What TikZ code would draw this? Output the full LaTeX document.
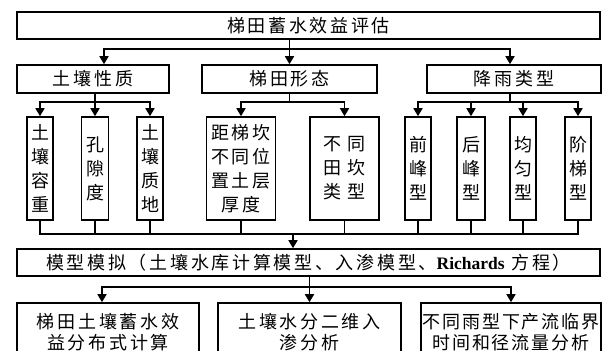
\documentclass[tikz,border=0pt]{standalone}
\usepackage{fontspec}
\setmainfont{Noto Sans CJK SC}
\newfontfamily\spaced{Noto Sans CJK SC}[LetterSpace=15]
\newfontfamily\spacedb{Noto Sans CJK SC}[LetterSpace=11]
\newfontfamily\richfont{Liberation Serif}
\usetikzlibrary{arrows.meta,calc}
\tikzset{
  box/.style={draw, line width=1.6pt, inner sep=0pt, align=center},
  hbox/.style={box, font=\spaced\fontsize{18}{21}\selectfont},
  vbox/.style={box, font=\fontsize{18}{24}\selectfont, minimum height=103pt},
  mbox/.style={box, font=\spaced\fontsize{18}{24}\selectfont, minimum height=103pt, minimum width=69pt},
  conn/.style={line width=1.6pt},
  arr/.style={conn, -{Triangle[width=9pt,length=8pt]}},
}
\begin{document}
\begin{tikzpicture}[x=1pt,y=-1pt]
\useasboundingbox (0,0) rectangle (606,351);
\fill[white] (0,0) rectangle (606,351);
\begin{scope}
\clip (0,0) rectangle (606,351);
% level 1
\node[hbox, minimum width=583pt, minimum height=27pt] (T) at (308.5,25.5) {梯田蓄水效益评估};
% level 2
\node[hbox, minimum width=152pt, minimum height=28pt] (A) at (93,79) {土壤性质};
\node[hbox, minimum width=175pt, minimum height=28pt] (B) at (289.5,79) {梯田形态};
\node[hbox, minimum width=174pt, minimum height=28pt] (C) at (514,79) {降雨类型};
% level 3
\node[vbox, minimum width=26pt] (s1) at (40,168.5) {土\\壤\\容\\重};
\node[vbox, minimum width=27pt] (s2) at (95,168.5) {孔\\隙\\度};
\node[vbox, minimum width=26pt] (s3) at (150,168.5) {土\\壤\\质\\地};
\node[mbox] (f1) at (241,168.5) {距梯坎\\不同位\\置土层\\厚度};
\node[mbox] (f2) at (344.5,168.5) {不\hspace{6pt}同\\田\hspace{6pt}坎\\类\hspace{6pt}型};
\node[vbox, minimum width=26pt] (r1) at (418,168.5) {前\\峰\\型};
\node[vbox, minimum width=28pt] (r2) at (471,168.5) {后\\峰\\型};
\node[vbox, minimum width=26pt] (r3) at (523,168.5) {均\\匀\\型};
\node[vbox, minimum width=26pt] (r4) at (578,168.5) {阶\\梯\\型};
% model
\node[hbox, minimum width=583pt, minimum height=27pt] (M) at (308.5,262.5)
  {模型模拟（土壤水库计算模型、入渗模型、{\richfont\bfseries\fontsize{17.5}{18}\selectfont Richards} 方程）};
% bottom
\node[hbox, minimum width=182pt, minimum height=59pt] (p1) at (108,332.5) {梯田土壤蓄水效\\益分布式计算};
\node[hbox, minimum width=183pt, minimum height=59pt] (p2) at (309.5,332.5) {土壤水分二维入\\渗分析};
\node[hbox, font=\spacedb\fontsize{18}{21}\selectfont, minimum width=180pt, minimum height=59pt] (p3) at (511,332.5) {不同雨型下产流临界\\时间和径流量分析};
% buses
\coordinate (bus1) at (0,49);
\coordinate (bus2) at (0,102);
\coordinate (bus3) at (0,234);
\coordinate (bus4) at (0,287);
% top to level 2
\draw[arr] (T.south -| B.north) -- (B.north);
\draw[arr] (bus1 -| B.north) -| ([xshift=11pt]A.north);
\draw[arr] (bus1 -| B.north) -| ([xshift=-4pt]C.north);
% A children
\draw[arr] (A.south -| s2.north) -- (s2.north);
\draw[arr] (bus2 -| s2.north) -| (s1.north);
\draw[arr] (bus2 -| s2.north) -| (s3.north);
% B children
\draw[conn] (B.south) -- (B.south |- bus2);
\draw[arr] (B.south |- bus2) -| (f1.north);
\draw[arr] (B.south |- bus2) -| (f2.north);
% C children
\coordinate (cs) at ([xshift=-4pt]C.south);
\draw[conn] (cs) -- (cs |- bus2);
\draw[arr] (cs |- bus2) -| (r1.north);
\draw[arr] (cs |- bus2) -| (r2.north);
\draw[arr] (cs |- bus2) -| (r3.north);
\draw[arr] (cs |- bus2) -| (r4.north);
% level 3 to model
\draw[conn] (s1.south) |- (bus3 -| r4.south) -- (r4.south);
\foreach \n in {s2,s3,f1,f2,r1,r2,r3} \draw[conn] (\n.south) -- (\n.south |- bus3);
\coordinate (mi) at ([xshift=-15.5pt]M.north);
\draw[arr] (mi |- bus3) -- (mi);
% model to bottom
\draw[conn] (M.south -| p2.north) -- (bus4 -| p2.north);
\draw[arr] (bus4 -| p2.north) -- (p2.north);
\draw[arr] (bus4 -| p2.north) -| ([xshift=-6pt]p1.north);
\draw[arr] (bus4 -| p2.north) -| (p3.north);
\end{scope}
\end{tikzpicture}
\end{document}
